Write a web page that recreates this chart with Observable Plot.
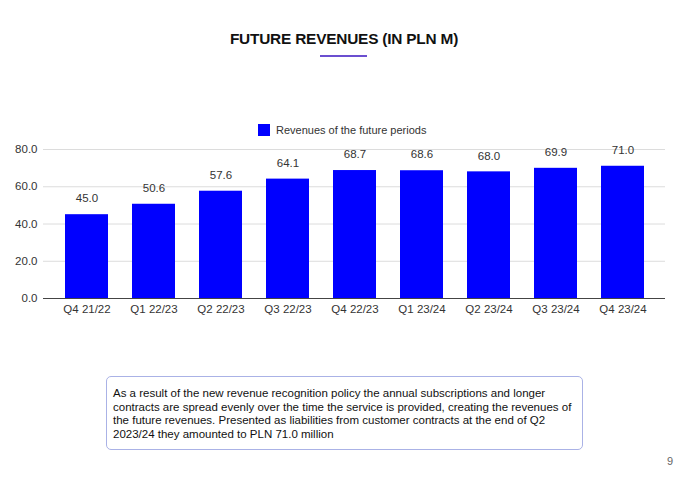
<!DOCTYPE html>
<html>
<head>
<meta charset="utf-8">
<script src="https://cdn.jsdelivr.net/npm/d3@7"></script>
<script src="https://cdn.jsdelivr.net/npm/@observablehq/plot@0.6"></script>
<style>
  html, body { margin: 0; padding: 0; background: #fff; }
  body { width: 680px; height: 478px; position: relative; overflow: hidden; font-family: "Liberation Sans", Arial, sans-serif; }
  #title { position: absolute; top: 30px; left: 0; width: 688px; text-align: center; font-weight: bold; font-size: 15.4px; color: #111; letter-spacing: -0.2px; }
  #bar { position: absolute; top: 55px; left: 320px; width: 47px; height: 2px; background: #6b4fd0; }
  #legend { position: absolute; top: 124px; left: 258px; font-size: 11px; color: #333; display: flex; align-items: center; }
  #legend span.sw { display: inline-block; width: 12px; height: 12px; background: #0000ff; margin-right: 6px; }
  #chart { position: absolute; top: 140px; left: 0; }
  #note { position: absolute; top: 376px; left: 106px; width: 462px; height: 62px; border: 1px solid #aab2e6; border-radius: 5px; padding: 10px 7px 0 6px; font-size: 11.5px; line-height: 13.5px; color: #111; }
  #page { position: absolute; top: 455px; left: 667px; font-size: 11px; color: #666; }
</style>
</head>
<body>
<div id="title">FUTURE REVENUES (IN PLN M)</div>
<div id="bar"></div>
<div id="legend"><span class="sw"></span>Revenues of the future periods</div>
<div id="chart"></div>
<div id="note">As a result of the new revenue recognition policy the annual subscriptions and longer contracts are spread evenly over the time the service is provided, creating the revenues of the future revenues. Presented as liabilities from customer contracts at the end of Q2 2023/24 they amounted to PLN 71.0 million</div>
<div id="page">9</div>
<script>
const quarters = ["Q4 21/22", "Q1 22/23", "Q2 22/23", "Q3 22/23", "Q4 22/23", "Q1 23/24", "Q2 23/24", "Q3 23/24", "Q4 23/24"];
const values = [45.0, 50.6, 57.6, 64.1, 68.7, 68.6, 68.0, 69.9, 71.0];
const yTicks = [0, 20, 40, 60, 80];

const data = quarters.map((q, i) => ({quarter: q, value: values[i]}));
const fmt = d3.format(".1f");

const chart = Plot.plot({
  width: 680,
  height: 185,
  marginTop: 9,
  marginBottom: 27,
  marginLeft: 43,
  marginRight: 15,
  style: {fontFamily: "'Liberation Sans', Arial, sans-serif", fontSize: "11.5px", color: "#333", background: "transparent"},
  x: {domain: quarters, paddingInner: 0.36, paddingOuter: 0.3, label: null, tickSize: 0, tickPadding: 6},
  y: {domain: [0, 80], ticks: yTicks, tickFormat: fmt, label: null, tickSize: 0, tickPadding: 6},
  marks: [
    Plot.ruleY(yTicks.filter(d => d > 0), {stroke: "#dcdcdc", strokeWidth: 1}),
    Plot.barY(data, {x: "quarter", y: "value", fill: "#0000ff"}),
    Plot.ruleY([0], {stroke: "#444", strokeWidth: 1}),
    Plot.text(data, {x: "quarter", y: "value", text: d => fmt(d.value), dy: -16, fill: "#333", fontSize: 11.5})
  ]
});
document.getElementById("chart").appendChild(chart);
</script>
</body>
</html>
